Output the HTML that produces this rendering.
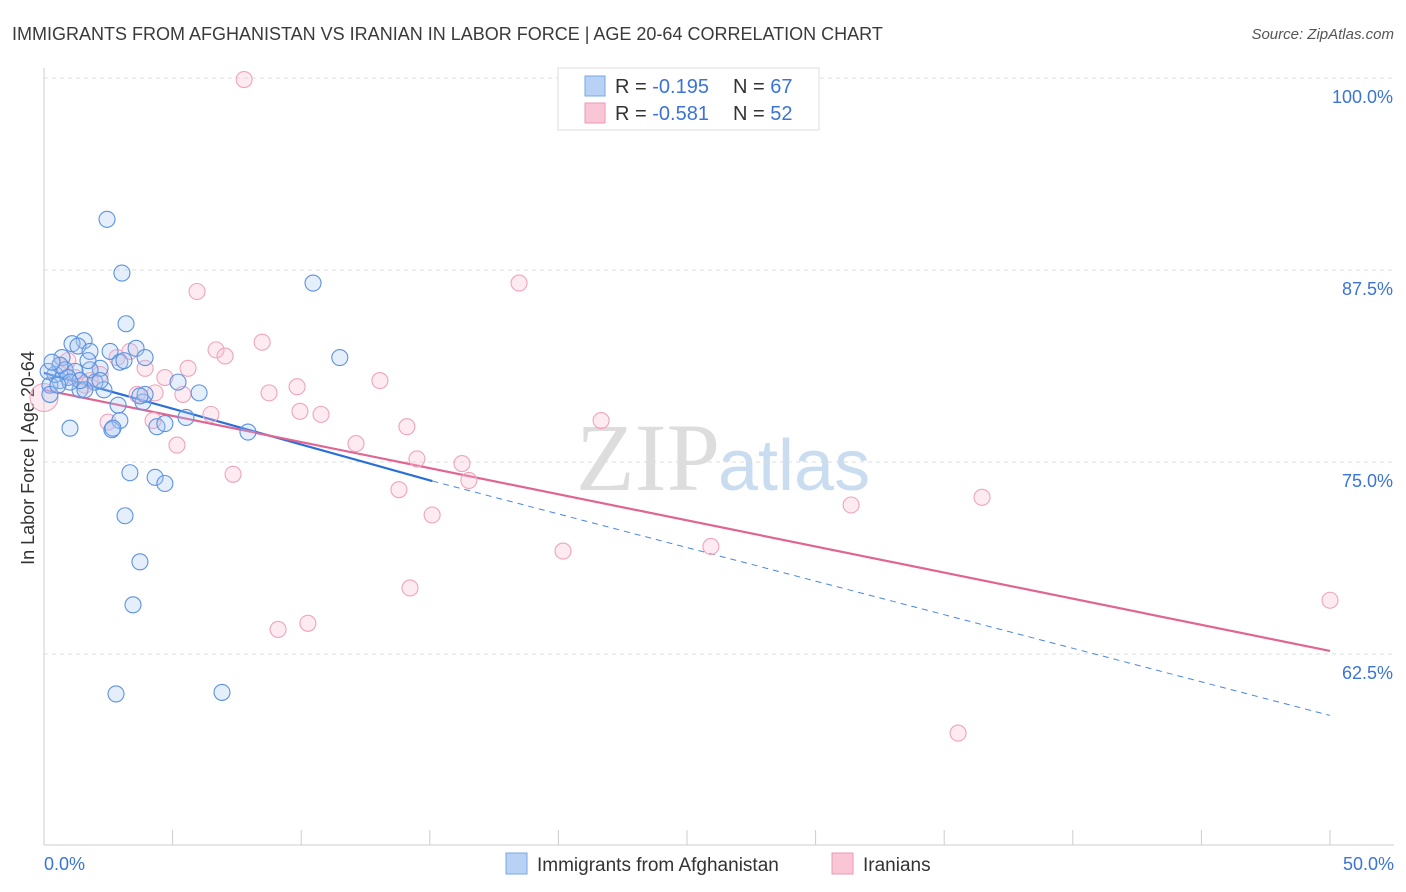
<!DOCTYPE html>
<html><head><meta charset="utf-8">
<style>
body{margin:0;background:#fff;font-family:"Liberation Sans",sans-serif;}
#wrap{position:relative;width:1406px;height:892px;overflow:hidden;}
</style></head>
<body>
<div id="wrap">
<svg id="svg" width="1406" height="892" xmlns="http://www.w3.org/2000/svg">
<text x="12" y="40" font-size="18" fill="#3a3a3a">IMMIGRANTS FROM AFGHANISTAN VS IRANIAN IN LABOR FORCE | AGE 20-64 CORRELATION CHART</text>
<text x="1394" y="39" font-size="15" fill="#555" text-anchor="end" font-style="italic">Source: ZipAtlas.com</text>
<text x="34" y="458" font-size="18" fill="#333" text-anchor="middle" transform="rotate(-90 34 458)">In Labor Force | Age 20-64</text>
<text x="720" y="490" font-size="96" fill="#ddd" text-anchor="end" font-family="Liberation Serif">ZIP</text>
<text x="718" y="490" font-size="72" fill="#c9dcf0">atlas</text>
<g id="grid"></g><g id="axes"></g><g id="trend"></g><g id="pts"></g>
<g>
<rect x="558" y="68" width="261" height="62" fill="#fff" stroke="#ddd"/>
<rect x="585" y="76" width="20" height="20" fill="#b8d2f5" stroke="#7aa7e6"/>
<rect x="585" y="103" width="20" height="20" fill="#f8c6d5" stroke="#ee9ab4"/>
<text x="615" y="93" font-size="20" fill="#333">R = <tspan fill="#3b74d6">-0.195</tspan></text>
<text x="733" y="93" font-size="20" fill="#333">N = <tspan fill="#3b74d6">67</tspan></text>
<text x="615" y="120" font-size="20" fill="#333">R = <tspan fill="#3b74d6">-0.581</tspan></text>
<text x="733" y="120" font-size="20" fill="#333">N = <tspan fill="#3b74d6">52</tspan></text>
</g>
<g>
<rect x="506" y="853" width="21" height="21" fill="#b8d2f5" stroke="#7aa7e6"/>
<text x="537" y="871" font-size="19" fill="#333">Immigrants from Afghanistan</text>
<rect x="832" y="853" width="21" height="21" fill="#f8c6d5" stroke="#ee9ab4"/>
<text x="863" y="871" font-size="19" fill="#333">Iranians</text>
</g>
</svg>
</div>
<script>
const blueX=[2.45,3.03,10.46,3.19,11.5,1.56,1.09,1.32,1.79,0.70,3.58,3.93,5.21,6.03,7.93,5.52,4.39,4.70,2.95,2.64,1.01,3.34,4.32,4.70,3.15,3.73,3.46,2.80,6.92,2.33,1.40,0.62,0.23,0.43,0.82,1.21,1.98,2.18,2.57,2.95,1.79,1.59,3.85,2.88,3.93,0.62,0.16,0.31,0.93,1.40,2.18,3.73,2.68,0.23,1.01,0.54,1.71,3.11];
const blueY=[90.8,87.3,86.65,84.0,81.8,82.9,82.7,82.55,82.2,81.8,82.4,81.8,80.2,79.5,76.95,77.9,77.3,77.5,77.7,77.1,77.2,74.3,74.0,73.6,71.5,68.5,65.7,59.9,60.0,79.7,79.7,80.3,80.0,80.7,81.0,80.9,80.2,81.1,82.2,81.5,81.0,79.7,78.9,78.7,79.4,81.3,80.9,81.5,80.5,80.3,80.3,79.3,77.2,79.4,80.2,80.0,81.6,81.6];
const pinkX=[7.78,18.47,5.95,8.48,6.69,7.04,2.84,3.34,5.6,3.93,4.70,13.06,9.84,8.75,5.40,4.32,3.62,9.95,10.77,6.49,4.24,2.49,21.66,14.11,12.13,5.17,14.50,16.25,16.52,7.35,13.8,36.47,31.38,15.09,25.93,20.18,14.23,50,10.26,9.1,35.54,0,1.79,2.18,0.62,1.21,1.59,0.93];
const pinkY=[99.9,86.65,86.1,82.8,82.3,81.9,81.8,82.2,81.1,81.1,80.5,80.3,79.9,79.5,79.4,79.5,79.4,78.3,78.1,78.1,77.7,77.6,77.7,77.3,76.2,76.1,75.2,74.9,73.8,74.2,73.2,72.7,72.2,71.55,69.5,69.2,66.8,66.0,64.5,64.1,57.35,79.2,80.3,80.7,81.3,80.5,80.0,81.6];
const yTicks=[100,87.5,75,62.5];
const yTickLabels=["100.0%","87.5%","75.0%","62.5%"];
const blueTrend=[[0,80.8],[15.1,73.76],[50,58.5]];
const pinkTrend=[[0,79.7],[50,62.7]];
const NS="http://www.w3.org/2000/svg";
const sx=v=>44+v*25.72, sy=v=>78+(100-v)*15.36;
function mk(t,a,p){const e=document.createElementNS(NS,t);for(const k in a)e.setAttribute(k,a[k]);p.appendChild(e);return e;}
const grid=document.getElementById('grid'),axes=document.getElementById('axes'),tr=document.getElementById('trend'),pts=document.getElementById('pts');
yTicks.forEach((v,i)=>{
 const l=mk('line',{x1:44,x2:1394,y1:sy(v),y2:sy(v),stroke:'#ddd','stroke-dasharray':'4,4'},grid);
 
 
 const t=mk('text',{x:1393,y:sy(v)+25,'font-size':18,fill:'#3b74d6','text-anchor':'end'},grid);
 t.textContent=yTickLabels[i];
 
 
});
const ax=mk('line',{x1:44,x2:1394,y1:845,y2:845,stroke:'#ccc'},axes);


const ay=mk('line',{x1:44,x2:44,y1:68,y2:845,stroke:'#ccc'},axes);


for(let i=0;i<=10;i++){const t=mk('line',{x1:sx(i*5),x2:sx(i*5),y1:830,y2:845,stroke:'#ccc'},axes);
 
 }
const x0=mk('text',{x:44,y:870,'font-size':18,fill:'#3b74d6'},axes);x0.textContent='0.0%';


const x1=mk('text',{x:1394,y:870,'font-size':18,fill:'#3b74d6','text-anchor':'end'},axes);x1.textContent='50.0%';


function pt(x,y,f,s,nm,r){const c=mk('circle',{cx:sx(x),cy:sy(y),r:r||8,fill:f,stroke:s,'stroke-width':1.1},pts);
 
 }
pinkX.forEach((x,i)=>pt(x,pinkY[i],'rgba(248,190,210,0.3)','#f0a3bd','iranian-point',(x===0?14:8)));
blueX.forEach((x,i)=>pt(x,blueY[i],'rgba(170,200,242,0.3)','#5b92e0','afghanistan-point'));
let l=mk('line',{x1:sx(blueTrend[0][0]),y1:sy(blueTrend[0][1]),x2:sx(blueTrend[1][0]),y2:sy(blueTrend[1][1]),stroke:'#2a6fd6','stroke-width':2.2},tr);


l=mk('line',{x1:sx(blueTrend[1][0]),y1:sy(blueTrend[1][1]),x2:sx(blueTrend[2][0]),y2:sy(blueTrend[2][1]),stroke:'#4a86de','stroke-width':1,'stroke-dasharray':'6,5'},tr);


l=mk('line',{x1:sx(pinkTrend[0][0]),y1:sy(pinkTrend[0][1]),x2:sx(pinkTrend[1][0]),y2:sy(pinkTrend[1][1]),stroke:'#e06592','stroke-width':2.2},tr);


</script>
</body></html>
